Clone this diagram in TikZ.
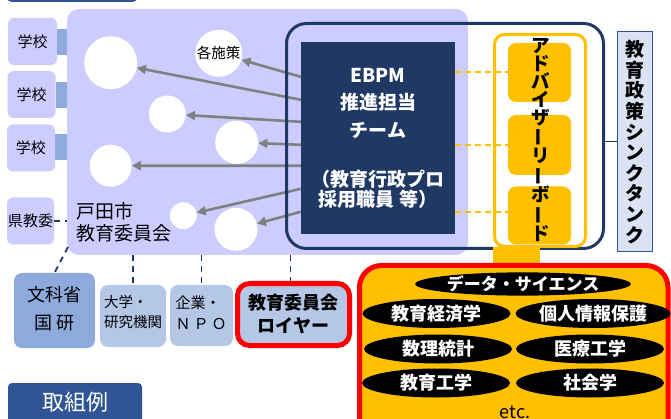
\documentclass[tikz,border=0pt]{standalone}
\usepackage{fontspec}
\setmainfont{Noto Sans CJK JP}
\usetikzlibrary{arrows.meta,shapes.geometric,calc}
\definecolor{lav}{HTML}{CCCCFF}
\definecolor{barblue}{HTML}{8EA9DB}
\definecolor{lightblue}{HTML}{B4C7E7}
\definecolor{navy}{HTML}{203864}
\definecolor{topblue}{HTML}{2F5597}
\definecolor{yel}{HTML}{FFC000}
\definecolor{tankfill}{HTML}{DAE3F3}
\definecolor{arrgray}{HTML}{808080}
\newcommand\fsz[2]{\fontsize{#1}{#2}\selectfont}
\newcommand\tbar{\rotatebox[origin=c]{90}{ー}}
\tikzset{
  school/.style={fill=lav, rounded corners=6pt, minimum height=47, inner sep=0, font=\fsz{15}{18}},
  bar/.style={barblue, line width=26pt},
  dot/.style={circle, fill=white, inner sep=0},
  arr/.style={arrgray, line width=2.6pt, -{Triangle[length=9pt,width=9pt]}},
  link/.style={navy, line width=1.8pt, dash pattern=on 6pt off 5pt},
  ydash/.style={yel, line width=2pt, dash pattern=on 6pt off 4pt},
  ybox/.style={fill=yel, rounded corners=8pt, minimum width=63, minimum height=59, inner sep=0},
  pill/.style={ellipse, fill=black, text=white, font=\bfseries\fsz{18}{20}, minimum width=148, minimum height=29, inner sep=0},
  lowbox/.style={fill=lightblue, rounded corners=8pt, inner sep=0},
}
\begin{document}
\begin{tikzpicture}[x=1pt,y=-1pt]
\path[use as bounding box] (0,0) rectangle (671,419);
\clip (0,0) rectangle (671,419);

% top cut box
\node[fill=topblue, rounded corners=4pt, minimum width=130, minimum height=22, inner sep=0, anchor=south west] (topbox) at (7,2) {};

% main lavender region
\node[fill=lav, rounded corners=12pt, minimum width=401, minimum height=246, inner sep=0] (main) at (267.5,132) {};

% schools
\node[school, minimum width=49] (s1) at (32.5,41.5) {学校};
\node[school, minimum width=48] (s2) at (31.5,94.5) {学校};
\node[school, minimum width=48] (s3) at (31,148) {学校};
\node[school, minimum width=47] (ken) at (30.5,221) {県教委};
\draw[bar] ([yshift=-1pt]s1.east) -- ([yshift=-1pt]s1.east -| main.west);
\draw[bar] ([yshift=-0.5pt]s2.east) -- ([yshift=-0.5pt]s2.east -| main.west);
\draw[bar] ([yshift=1pt]s3.east) -- ([yshift=1pt]s3.east -| main.west);
\draw[link] (ken.east) -- (ken.east -| main.west);

% circles
\node[dot, minimum size=53] (c1) at (110.7,62.7) {};
\node[dot, minimum size=47, font=\fsz{14.5}{16}] (c2) at (218.7,53.3) {各施策};
\node[dot, minimum size=37] (c3) at (167.3,114) {};
\node[dot, minimum size=43] (c4) at (236.7,142.3) {};
\node[dot, minimum size=42] (c5) at (110.7,165.7) {};
\node[dot, minimum size=27] (c6) at (183.3,215.7) {};
\node[dot, minimum size=43] (c7) at (236,229.3) {};

\node[anchor=west, align=left, font=\fsz{19}{22}, inner sep=0] (toda) at (76,222) {戸田市\\教育委員会};

% EBPM team
\node[fill=navy, minimum width=154, minimum height=192, inner sep=0, text=white, font=\bfseries\fsz{19}{27.5}, align=center] (ebpm) at (378,138)
  {EBPM\\推進担当\\チーム\\[21.5pt]（教育行政プロ\\[-7.5pt]採用職員 等）};

\draw[arr] ([yshift=-35pt]ebpm.north west) -- (c2);
\draw[arr] ([yshift=-58pt]ebpm.north west) -- (c1);
\draw[arr] ([yshift=-80pt]ebpm.north west) -- (c3);
\draw[arr] ([yshift=-103pt]ebpm.north west) -- (c4);
\draw[arr] ([yshift=-124pt]ebpm.north west) -- (c5);
\draw[arr] ([yshift=-147pt]ebpm.north west) -- (c6);
\draw[arr] ([yshift=-170pt]ebpm.north west) -- (c7);

% think tank frame
\node[draw=navy, line width=3pt, rounded corners=20pt, minimum width=317, minimum height=225, inner sep=0] (frame) at (445,136) {};

% advisory board
\node[draw=yel, fill=white, line width=3pt, rounded corners=10pt, minimum width=91, minimum height=212, inner sep=0] (adv) at (540,140.5) {};
\fill[yel] (493,247) rectangle (540,266);
\node[ybox] (y1) at (539.5,72.5) {};
\node[ybox, minimum height=60] (y2) at (539.5,145) {};
\node[ybox, minimum height=58] (y3) at (539.5,215.5) {};
\node[align=center, font=\bfseries\fsz{18.5}{18}, inner sep=0] (advt) at (541,140)
  {ア\\ド\\バ\\イ\\ザ\\\tbar\\リ\\\tbar\\ボ\\\tbar\\ド};
\draw[ydash] (y1.west -| ebpm.east) -- (y1.west);
\draw[ydash] (y2.west -| ebpm.east) -- (y2.west);
\draw[ydash] ([yshift=3pt]y3.west -| ebpm.east) -- ([yshift=3pt]y3.west);

% think tank label
\node[fill=tankfill, draw=topblue, line width=1pt, minimum width=35, minimum height=220, inner sep=0, align=center, font=\bfseries\fsz{19}{20.6}] (tank) at (634.5,142)
  {教\\育\\政\\策\\シ\\ン\\ク\\タ\\ン\\ク};
\draw[navy, line width=1pt] (tank.west) -- (tank.west -| frame.east);

% expertise box
\node[draw=red, fill=yel, line width=5pt, rounded corners=22pt, minimum width=308.5, minimum height=190, inner sep=0, anchor=north west, outer sep=0] (lab) at (359.5,265.5) {};
\node[pill, minimum width=210, minimum height=22, font=\bfseries\fsz{17}{18}] (ds) at (523,284) {データ・サイエンス};
\node[pill] (ee) at (436.5,313.5) {教育経済学};
\node[pill, minimum width=155] (pi) at (593,313.5) {個人情報保護};
\node[pill] (ms) at (438,349) {数理統計};
\node[pill] (me) at (590,349) {医療工学};
\node[pill] (et) at (436,383) {教育工学};
\node[pill] (so) at (590,383) {社会学};
\node[font=\fsz{18}{20}, inner sep=0] (etc) at (515,412) {etc.};

% lower boxes
\node[fill=barblue, rounded corners=8pt, minimum width=81, minimum height=75, inner sep=0] (mext) at (54.5,310.5) {};
\node[align=center, font=\fsz{18}{28}, inner sep=0] (mextt) at (54.5,309) {文科省\\国 研};
\node[lowbox, minimum width=66, minimum height=62] (univ) at (133,316) {};
\node[align=left, font=\fsz{14.5}{20}, inner sep=0] (univt) at (133,312) {大学・\\研究機関};
\node[lowbox, minimum width=63, minimum height=61] (firm) at (201.5,315.5) {};
\node[align=left, font=\fsz{15}{21}, inner sep=0] (firmt) at (201,312.5) {企業・\\Ｎ\hspace{3pt}Ｐ\hspace{3pt}Ｏ};
\node[lowbox, draw=red, line width=5pt, rounded corners=12pt, minimum width=112, minimum height=62] (law) at (293.5,314.5) {};
\node[align=center, font=\bfseries\fsz{18}{23}, inner sep=0] (lawt) at (293.5,313.5) {教育委員会\\ロイヤー};

\coordinate (mc) at (68,247);
\draw[link] (mc) -- (mext.north);
\draw[link] (univ.north |- main.south) -- (univ.north);
\draw[link] (firm.north |- main.south) -- (firm.north);
\coordinate (lawtop) at ([xshift=-3pt]law.north);
\draw[link] (lawtop |- main.south) -- (lawtop);

% example label
\node[fill=topblue, rounded corners=4pt, minimum width=134, minimum height=40, inner sep=0, text=white, font=\fsz{22}{24}] (ex) at (75,403) {\raisebox{3pt}{取組例}};
\end{tikzpicture}
\end{document}
